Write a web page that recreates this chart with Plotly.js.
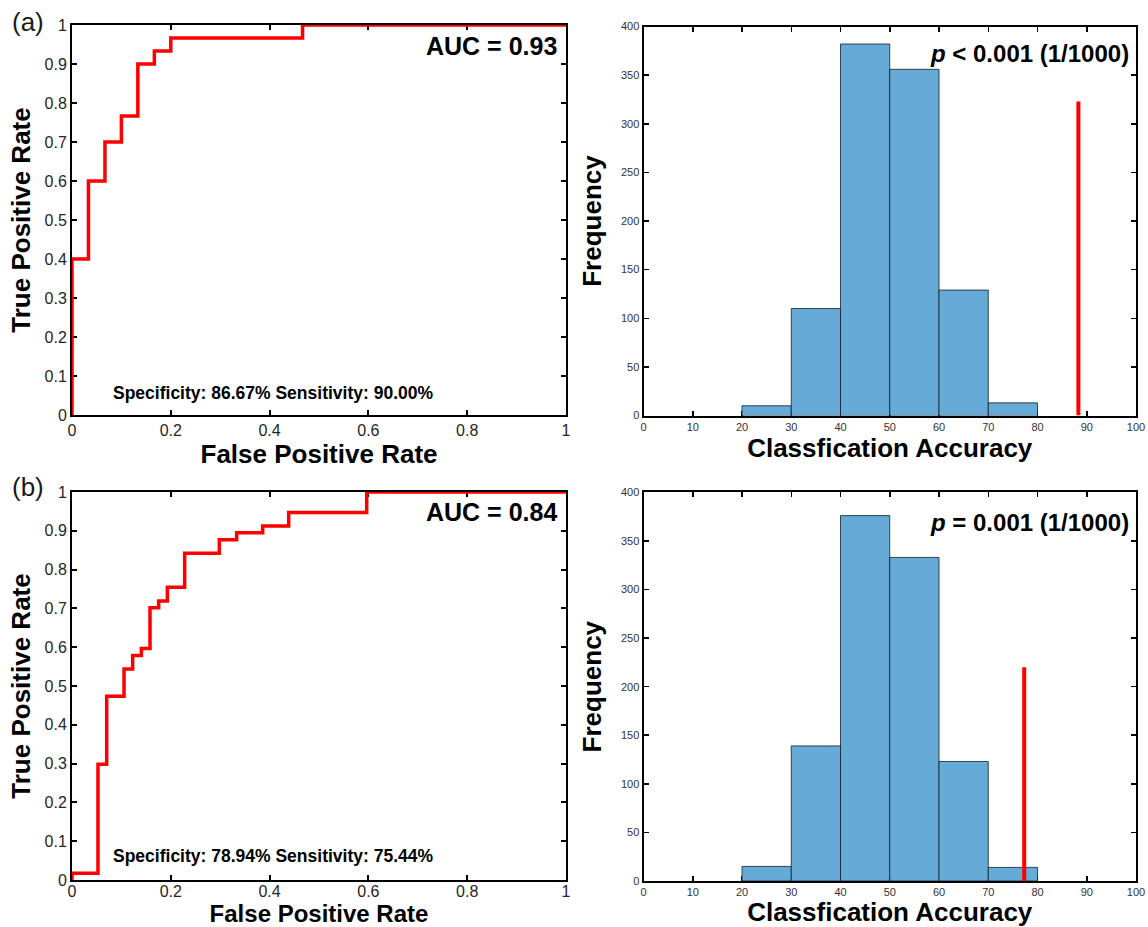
<!DOCTYPE html>
<html>
<head>
<meta charset="utf-8">
<script src="https://cdn.plot.ly/plotly-3.0.1.min.js"></script>
<style>html,body{margin:0;padding:0;background:#fff;}#chart{width:1148px;height:927px;}</style>
</head>
<body>
<div id="chart"></div>
<script>
// ROC curve (a): corner points of the step curve
const fprA = [0, 0, 0.0333, 0.0333, 0.0667, 0.0667, 0.1, 0.1, 0.1333, 0.1333, 0.1667, 0.1667, 0.2, 0.2, 0.4667, 0.4667, 1];
const tprA = [0, 0.4, 0.4, 0.6, 0.6, 0.7, 0.7, 0.7667, 0.7667, 0.9, 0.9, 0.9333, 0.9333, 0.9667, 0.9667, 1, 1];

// ROC curve (b)
const fprB = [0, 0, 0.0526, 0.0526, 0.0702, 0.0702, 0.1053, 0.1053, 0.1228, 0.1228, 0.1404, 0.1404, 0.1579, 0.1579, 0.1754, 0.1754, 0.193, 0.193, 0.2281, 0.2281, 0.2982, 0.2982, 0.3333, 0.3333, 0.386, 0.386, 0.4386, 0.4386, 0.5965, 0.5965, 1];
const tprB = [0, 0.0175, 0.0175, 0.2982, 0.2982, 0.4737, 0.4737, 0.5439, 0.5439, 0.5789, 0.5789, 0.5965, 0.5965, 0.7018, 0.7018, 0.7193, 0.7193, 0.7544, 0.7544, 0.8421, 0.8421, 0.8772, 0.8772, 0.8947, 0.8947, 0.9123, 0.9123, 0.9474, 0.9474, 1, 1];

// Permutation histograms
const binCenters = [25, 35, 45, 55, 65, 75];
const binWidth = 10;
const countsA = [10, 110, 382, 356, 129, 13];
const countsB = [15, 139, 376, 333, 123, 14];

// Observed accuracy markers
const observedA = 88.3, observedTopA = 323;
const observedB = 77.3, observedTopB = 220;

// Texts
const aucTextA = "AUC = 0.93";
const aucTextB = "AUC = 0.84";
const specTextA = "Specificity: 86.67% Sensitivity: 90.00%";
const specTextB = "Specificity: 78.94% Sensitivity: 75.44%";
const pTextA = "<i>p</i> &lt; 0.001 (1/1000)";
const pTextB = "<i>p</i> = 0.001 (1/1000)";

const W = 1148, H = 927;
const px = v => v / W;
const py = v => 1 - v / H;

const FONT = 'Arial, "Liberation Sans", Helvetica, sans-serif';
const RED = '#ff0000';

const traces = [
  {type:'scatter', mode:'lines', x:fprA, y:tprA, xaxis:'x', yaxis:'y', line:{color:RED, width:3.5}, hoverinfo:'skip'},
  {type:'scatter', mode:'lines', x:fprB, y:tprB, xaxis:'x2', yaxis:'y2', line:{color:RED, width:3.5}, hoverinfo:'skip'},
  {type:'bar', x:binCenters, y:countsA, width:binWidth, xaxis:'x3', yaxis:'y3',
   marker:{color:'#66aad7', line:{color:'rgba(20,30,40,0.8)', width:1}}},
  {type:'scatter', mode:'lines', x:[observedA, observedA], y:[0, observedTopA], xaxis:'x3', yaxis:'y3', line:{color:RED, width:4}},
  {type:'bar', x:binCenters, y:countsB, width:binWidth, xaxis:'x4', yaxis:'y4',
   marker:{color:'#66aad7', line:{color:'rgba(20,30,40,0.8)', width:1}}},
  {type:'scatter', mode:'lines', x:[observedB, observedB], y:[0, observedTopB], xaxis:'x4', yaxis:'y4', line:{color:RED, width:4}}
];

function rocAxis(extra) {
  return Object.assign({
    showline:true, linecolor:'#000', linewidth:2, mirror:'ticks',
    ticks:'inside', ticklen:5, tickwidth:2, tickcolor:'#000',
    showgrid:false, zeroline:false, layer:'below traces',
    tickfont:{family:FONT, size:16, color:'#262626'},
    fixedrange:true
  }, extra);
}
function histAxis(extra) {
  return Object.assign({
    showline:true, linecolor:'#000', linewidth:2, mirror:'ticks',
    ticks:'inside', ticklen:5, tickwidth:1.5, tickcolor:'#000',
    showgrid:false, zeroline:false, layer:'below traces',
    tickfont:{family:FONT, size:11, color:'#333333'},
    fixedrange:true
  }, extra);
}
const titleFont = {family:FONT, size:26, color:'#000'};
const titleFontB = {family:FONT, size:24, color:'#000'};

const rocX = [px(72), px(566)];
const histX = [px(643.5), px(1136)];

const layout = {
  width:W, height:H,
  margin:{l:0, r:0, t:0, b:0},
  paper_bgcolor:'#fff', plot_bgcolor:'#fff',
  showlegend:false,
  bargap:0,
  font:{family:FONT},
  xaxis: rocAxis({domain:rocX, anchor:'y', range:[0,1], dtick:0.2, tick0:0,
    title:{text:'<b>False Positive Rate</b>', font:titleFont, standoff:2}}),
  yaxis: rocAxis({domain:[py(415), py(25)], anchor:'x', range:[0,1], dtick:0.1, tick0:0,
    title:{text:'<b>True Positive Rate</b>', font:titleFont, standoff:6}}),
  xaxis2: rocAxis({domain:rocX, anchor:'y2', range:[0,1], dtick:0.2, tick0:0, ticklabelstandoff:-4,
    title:{text:'<b>False Positive Rate</b>', font:titleFontB, standoff:0}}),
  yaxis2: rocAxis({domain:[py(880), py(492)], anchor:'x2', range:[0,1], dtick:0.1, tick0:0,
    title:{text:'<b>True Positive Rate</b>', font:titleFont, standoff:6}}),
  xaxis3: histAxis({domain:histX, anchor:'y3', range:[0,100], dtick:10, tick0:0,
    title:{text:'<b>Classfication Accuracy</b>', font:titleFont, standoff:4}}),
  yaxis3: histAxis({domain:[py(415.5), py(26.5)], anchor:'x3', range:[0,400], dtick:50, tick0:0,
    title:{text:'<b>Frequency</b>', font:titleFont, standoff:12}}),
  xaxis4: histAxis({domain:histX, anchor:'y4', range:[0,100], dtick:10, tick0:0,
    title:{text:'<b>Classfication Accuracy</b>', font:titleFont, standoff:4}}),
  yaxis4: histAxis({domain:[py(881), py(492.3)], anchor:'x4', range:[0,400], dtick:50, tick0:0,
    title:{text:'<b>Frequency</b>', font:titleFont, standoff:12}}),
  annotations: [
    {xref:'paper', yref:'paper', x:px(10), y:py(22), xanchor:'left', yanchor:'middle', showarrow:false,
     text:'(a)', font:{family:FONT, size:26, color:'#1a1a1a'}},
    {xref:'paper', yref:'paper', x:px(10), y:py(487), xanchor:'left', yanchor:'middle', showarrow:false,
     text:'(b)', font:{family:FONT, size:26, color:'#1a1a1a'}},
    {xref:'paper', yref:'paper', x:px(559), y:py(46), xanchor:'right', yanchor:'middle', showarrow:false,
     text:'<b>'+aucTextA+'</b>', font:{family:FONT, size:25, color:'#000'}},
    {xref:'paper', yref:'paper', x:px(559), y:py(512), xanchor:'right', yanchor:'middle', showarrow:false,
     text:'<b>'+aucTextB+'</b>', font:{family:FONT, size:25, color:'#000'}},
    {xref:'paper', yref:'paper', x:px(111), y:py(393), xanchor:'left', yanchor:'middle', showarrow:false,
     text:'<b>'+specTextA+'</b>', font:{family:FONT, size:17.5, color:'#000'}},
    {xref:'paper', yref:'paper', x:px(111), y:py(856), xanchor:'left', yanchor:'middle', showarrow:false,
     text:'<b>'+specTextB+'</b>', font:{family:FONT, size:17.5, color:'#000'}},
    {xref:'paper', yref:'paper', x:px(1131), y:py(54), xanchor:'right', yanchor:'middle', showarrow:false,
     text:'<b>'+pTextA+'</b>', font:{family:FONT, size:24, color:'#000'}},
    {xref:'paper', yref:'paper', x:px(1131), y:py(522), xanchor:'right', yanchor:'middle', showarrow:false,
     text:'<b>'+pTextB+'</b>', font:{family:FONT, size:24, color:'#000'}}
  ]
};

Plotly.newPlot('chart', traces, layout, {staticPlot:true, displayModeBar:false});
</script>
</body>
</html>
